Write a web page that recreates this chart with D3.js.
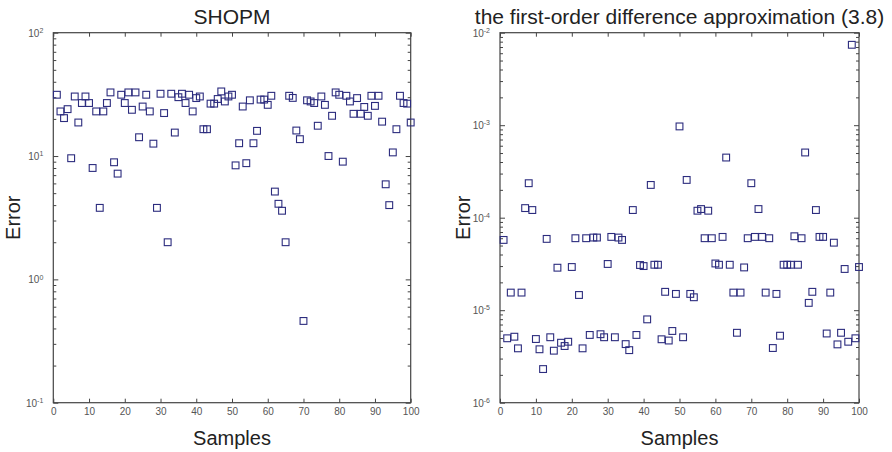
<!DOCTYPE html>
<html>
<head>
<meta charset="utf-8">
<script src="https://cdn.jsdelivr.net/npm/d3@7"></script>
<style>
  body { margin: 0; background: #fff; }
  svg { display: block; font-family: "Liberation Sans", Arial, sans-serif; }
  .tick text { fill: #555; font-size: 10px; font-family: "Liberation Sans", Arial, sans-serif; }
  .tick line { stroke: #444; }
  .domain { display: none; }
  .frame { fill: none; stroke: #444; stroke-width: 1.2; }
  .marker { fill: none; stroke: #2c2c7e; stroke-width: 1.1; }
  .title { fill: #222; font-size: 21px; }
  .label { fill: #222; font-size: 20px; }
</style>
</head>
<body>
<div id="chart"></div>
<script>
// Datos (muestras 1..100)
const shopmError = [
  31.4, 23, 20.3, 24, 9.6, 30.4, 18.7, 26.9, 30.4, 26.9,
  8.0, 23, 3.8, 23, 26.9, 32.8, 8.9, 7.2, 31.4, 26.9,
  32.8, 23.7, 32.8, 14.2, 25.2, 31.4, 23, 12.6, 3.8, 32,
  22.3, 2.0, 32, 15.5, 30, 32, 26.9, 31.4, 23, 29.5,
  30.4, 16.5, 16.5, 26.6, 26.6, 29, 33.4, 27.7, 30.4, 31.4,
  8.4, 12.7, 25.2, 8.75, 28.3, 12.7, 16.0, 28.7, 28.7, 26,
  30.8, 5.15, 4.1, 3.6, 2.0, 30.8, 29.6, 16.1, 13.7, 0.46,
  28.3, 27.7, 26.9, 17.6, 30.4, 26, 10, 21.2, 32.8, 31.4,
  9.0, 30.8, 27.7, 22, 29.5, 22, 25, 21.2, 30.8, 25.5,
  30.8, 19, 5.9, 4.0, 10.7, 16.5, 30.8, 26.9, 26.6, 18.7
];

const diffError = [
  5.75e-5, 4.97e-6, 1.55e-5, 5.17e-6, 3.87e-6, 1.55e-5, 1.27e-4, 2.36e-4, 1.21e-4, 4.88e-6,
  3.78e-6, 2.31e-6, 5.9e-5, 5.1e-6, 3.65e-6, 2.88e-5, 4.45e-6, 4.1e-6, 4.56e-6, 2.93e-5,
  6.0e-5, 1.46e-5, 3.87e-6, 6.0e-5, 5.4e-6, 6.1e-5, 6.1e-5, 5.5e-6, 5.1e-6, 3.16e-5,
  6.2e-5, 5.1e-6, 6.1e-5, 5.75e-5, 4.3e-6, 3.7e-6, 1.21e-4, 5.4e-6, 3.08e-5, 3.0e-5,
  7.96e-6, 2.26e-4, 3.1e-5, 3.1e-5, 4.85e-6, 1.58e-5, 4.7e-6, 5.96e-6, 1.5e-5, 9.7e-4,
  5.1e-6, 2.56e-4, 1.5e-5, 1.38e-5, 1.19e-4, 1.24e-4, 6.0e-5, 1.19e-4, 6.0e-5, 3.2e-5,
  3.1e-5, 6.2e-5, 4.47e-4, 3.1e-5, 1.55e-5, 5.7e-6, 1.55e-5, 2.9e-5, 6.0e-5, 2.36e-4,
  6.2e-5, 1.24e-4, 6.2e-5, 1.55e-5, 6.0e-5, 3.9e-6, 1.5e-5, 5.3e-6, 3.1e-5, 3.1e-5,
  3.1e-5, 6.3e-5, 3.1e-5, 6.0e-5, 5.07e-4, 1.2e-5, 1.58e-5, 1.21e-4, 6.2e-5, 6.2e-5,
  5.6e-6, 1.55e-5, 5.37e-5, 4.27e-6, 5.7e-6, 2.79e-5, 4.56e-6, 7.4e-3, 4.97e-6, 2.93e-5
];

const xTicks = [0, 10, 20, 30, 40, 50, 60, 70, 80, 90, 100];
const shopmDecades = [-1, 0, 1, 2];
const diffDecades = [-6, -5, -4, -3, -2];
const titles = ['SHOPM', 'the first-order difference approximation (3.8)'];
const xLabel = 'Samples';
const yLabel = 'Error';

let svg = d3.select('#chart').append('svg')
    .attr('width', 892)
    .attr('height', 452);

//Panel de dispersión con eje Y logarítmico
function drawPanel(opts) {
    let {left, right, top, bottom, values, decades, title, labelX} = opts;

    let x = d3.scaleLinear().domain([0, 100]).range([left, right]);
    let y = d3.scaleLog()
        .domain([Math.pow(10, decades[0]), Math.pow(10, decades[decades.length - 1])])
        .range([bottom, top]);

    //Ticks mayores y menores
    let majors = decades.map(function(e) { return Math.pow(10, e); });
    let minors = [];
    for (let k = 0; k < decades.length - 1; k++) {
        for (let m = 2; m <= 9; m++) minors.push(m * majors[k]);
    }
    let yTicks = majors.concat(minors);
    let isMajor = function(v) { return majors.indexOf(v) >= 0; };

    let g = svg.append('g');

    //Eje X inferior y superior
    g.append('g')
        .attr('transform', `translate(0,${bottom})`)
        .call(d3.axisBottom(x).tickValues(xTicks).tickSize(-4).tickPadding(5));
    g.append('g')
        .attr('transform', `translate(0,${top})`)
        .call(d3.axisTop(x).tickValues(xTicks).tickSize(-4).tickFormat(''));

    //Eje Y izquierdo
    let yl = g.append('g')
        .attr('transform', `translate(${left},0)`)
        .call(d3.axisLeft(y).tickValues(yTicks).tickSize(-4).tickPadding(10).tickFormat(''));
    yl.selectAll('.tick line').attr('x2', function(d) { return isMajor(d) ? 5 : 3; });
    yl.selectAll('.tick text')
        .attr('dy', '0.35em')
        .each(function(d) {
            if (!isMajor(d)) return;
            let t = d3.select(this);
            t.text('10');
            t.append('tspan')
                .attr('dy', '-0.55em')
                .attr('font-size', '7px')
                .text(Math.round(Math.log10(d)));
        });

    //Eje Y derecho
    let yr = g.append('g')
        .attr('transform', `translate(${right},0)`)
        .call(d3.axisRight(y).tickValues(yTicks).tickSize(-4).tickFormat(''));
    yr.selectAll('.tick line').attr('x2', function(d) { return isMajor(d) ? -5 : -3; });

    g.append('rect')
        .attr('class', 'frame')
        .attr('x', left)
        .attr('y', top)
        .attr('width', right - left)
        .attr('height', bottom - top);

    //Marcadores cuadrados
    let s = 6.8;
    g.selectAll('.marker')
        .data(values)
        .enter()
        .append('rect')
        .attr('class', 'marker')
        .attr('x', function(d, i) { return x(i + 1) - s / 2; })
        .attr('y', function(d) { return y(d) - s / 2; })
        .attr('width', s)
        .attr('height', s);

    //Textos
    g.append('text')
        .attr('class', 'title')
        .attr('x', (left + right) / 2)
        .attr('y', 24)
        .attr('text-anchor', 'middle')
        .text(title);

    g.append('text')
        .attr('class', 'label')
        .attr('x', (left + right) / 2)
        .attr('y', 445)
        .attr('text-anchor', 'middle')
        .text(xLabel);

    g.append('text')
        .attr('class', 'label')
        .attr('transform', `translate(${labelX},${(top + bottom) / 2}) rotate(-90)`)
        .attr('text-anchor', 'middle')
        .text(yLabel);
}

drawPanel({left: 53.3, right: 410.7, top: 32.7, bottom: 402.7,
    values: shopmError, decades: shopmDecades, title: titles[0], labelX: 20});
drawPanel({left: 500, right: 859, top: 32.7, bottom: 402.7,
    values: diffError, decades: diffDecades, title: titles[1], labelX: 470});
</script>
</body>
</html>
